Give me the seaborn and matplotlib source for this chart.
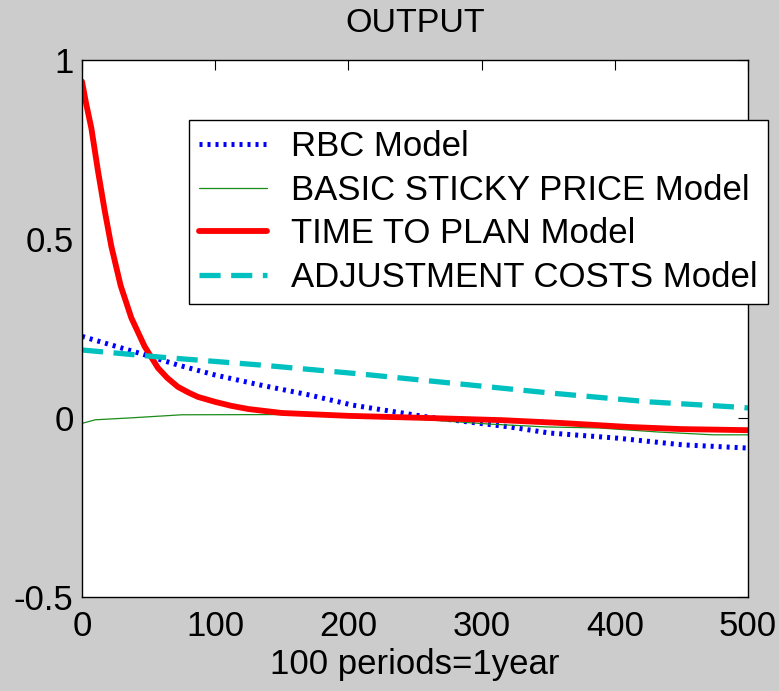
import matplotlib
matplotlib.use("Agg")
import matplotlib.pyplot as plt
import seaborn as sns


# Impulse responses
rbc_x = [0, 22, 44, 72, 100, 134, 171, 203, 259, 321, 351, 401, 451, 500]
rbc_y = [0.228, 0.204, 0.18, 0.148, 0.12, 0.092, 0.064, 0.036, 0.003, -0.025, -0.042, -0.056, -0.075, -0.084]

sticky_x = [0, 10, 35, 75, 200, 259, 306, 349, 389, 432, 474, 500]
sticky_y = [-0.015, -0.005, 0.0, 0.009, 0.01, -0.005, -0.017, -0.025, -0.028, -0.039, -0.047, -0.047]

ttp_x = [0, 3, 7, 12, 17, 22, 29, 37, 47, 57, 64, 72, 80, 87, 100, 112, 125, 150, 200, 260, 315, 360, 410,
         450, 500]
ttp_y = [0.94, 0.88, 0.81, 0.69, 0.58, 0.48, 0.37, 0.28, 0.20, 0.14, 0.112, 0.087, 0.071, 0.059, 0.045, 0.034,
         0.025, 0.014, 0.006, 0.0, -0.006, -0.014, -0.025, -0.031, -0.034]

adj_x = [0, 59, 134, 209, 276, 351, 426, 494, 500]
adj_y = [0.19, 0.17, 0.148, 0.123, 0.098, 0.07, 0.045, 0.03, 0.028]

labels = ["RBC Model", "BASIC STICKY PRICE Model", "TIME TO PLAN Model", "ADJUSTMENT COSTS Model"]
x_ticks = [0, 100, 200, 300, 400, 500]
y_ticks = [-0.5, 0, 0.5, 1]
y_tick_labels = ["-0.5", "0", "0.5", "1"]

sns.set_style("white")
plt.rcParams["font.family"] = ["Liberation Sans", "DejaVu Sans"]
plt.rcParams["text.color"] = "black"

fig = plt.figure(figsize=(7.79, 6.91), dpi=100, facecolor="#cccccc")
ax = fig.add_axes([82 / 779, 94 / 691, 666 / 779, 537 / 691])
ax.set_facecolor("white")

sns.lineplot(x=rbc_x, y=rbc_y, ax=ax, color="#0000ff", linewidth=3.6, linestyle=(0, (0.6, 1.0)),
             label=labels[0])
sns.lineplot(x=sticky_x, y=sticky_y, ax=ax, color="#1a8c1a", linewidth=0.9, label=labels[1])
sns.lineplot(x=ttp_x, y=ttp_y, ax=ax, color="#ff0000", linewidth=4.2, label=labels[2])
sns.lineplot(x=adj_x, y=adj_y, ax=ax, color="#00c0c0", linewidth=3.8, linestyle=(0, (4.0, 2.0)),
             label=labels[3])

ax.set_xlim(0, 500)
ax.set_ylim(-0.5, 1)
ax.set_xticks(x_ticks)
ax.set_yticks(y_ticks)
ax.set_xticklabels([str(v) for v in x_ticks])
ax.set_yticklabels(y_tick_labels)
ax.tick_params(direction="in", length=7, width=0.8, top=True, right=True, labelsize=25,
               colors="black")
ax.tick_params(axis="x", pad=9)
ax.tick_params(axis="y", pad=6)
for s in ax.spines.values():
    s.set_visible(True)
    s.set_color("black")
    s.set_linewidth(1.0)

ax.set_title("OUTPUT", fontsize=24.5, pad=20, color="black")
ax.set_xlabel("100 periods=1year", fontsize=25, labelpad=4, color="black")
ax.set_ylabel("")

leg = ax.legend(loc="upper left", bbox_to_anchor=(189 / 779, 1 - 120 / 691), bbox_transform=fig.transFigure,
                borderaxespad=0, fontsize=25, handlelength=1.95, handletextpad=0.7, labelspacing=0.3,
                borderpad=0.3, fancybox=False, framealpha=1, edgecolor="black")
leg.get_frame().set_linewidth(1.0)
for t in leg.get_texts():
    t.set_color("black")

fig.savefig("out.png", dpi=100, facecolor=fig.get_facecolor())
